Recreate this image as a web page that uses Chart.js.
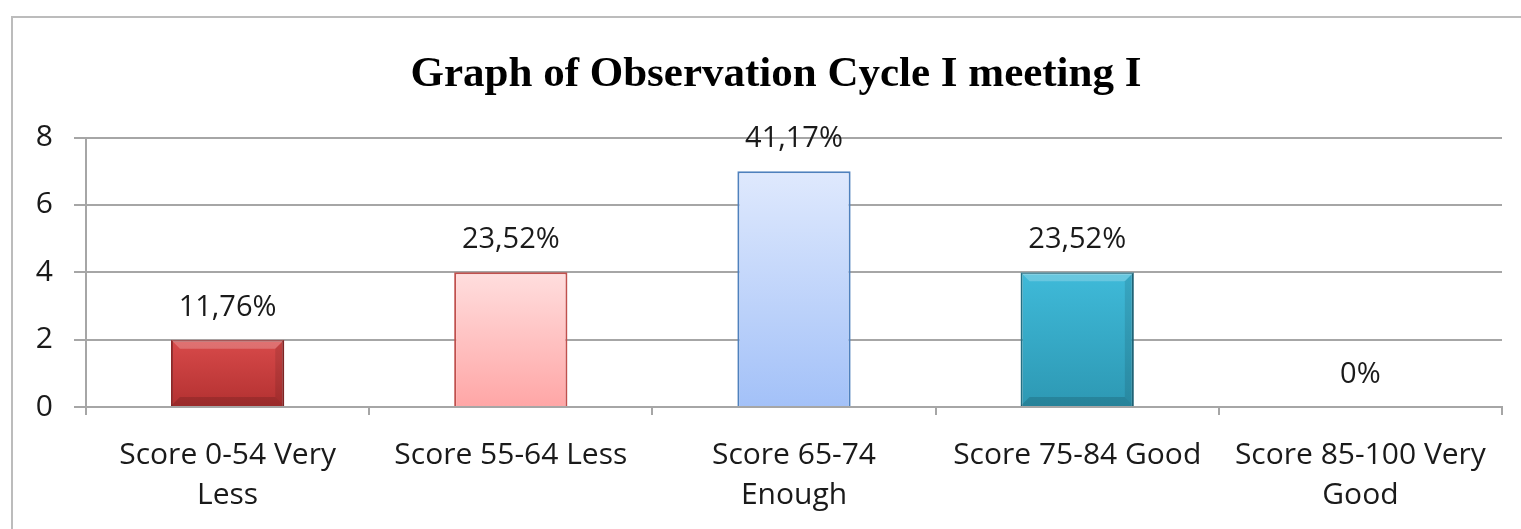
<!DOCTYPE html>
<html>
<head>
<meta charset="utf-8">
<title>Graph of Observation Cycle I meeting I</title>
<script src="https://cdn.jsdelivr.net/npm/chart.js@4/dist/chart.umd.min.js"></script>
<style>
    html, body { margin: 0; padding: 0; background: #fff; }
    #wrap { position: relative; width: 1521px; height: 529px; }
    #frame {
        position: absolute; left: 11px; top: 16px; right: -10px; bottom: -10px;
        border-left: 2px solid #bcbcbc; border-top: 2px solid #bcbcbc;
    }
    canvas { position: absolute; left: 0; top: 0; }
</style>
</head>
<body>
<div id="wrap">
    <div id="frame"></div>
    <canvas id="chart" width="1521" height="529"></canvas>
</div>
<script>
// === Data ===
const categories = [
    ['Score 0-54 Very', 'Less'],
    ['Score 55-64 Less'],
    ['Score 65-74', 'Enough'],
    ['Score 75-84 Good'],
    ['Score 85-100 Very', 'Good']
];
const counts = [2, 4, 7, 4, 0];
const percentLabels = ['11,76%', '23,52%', '41,17%', '23,52%', '0%'];
const yTicks = [0, 2, 4, 6, 8];

// === Bar styles (top colour, bottom colour, border) ===
const barStyles = [
    { top: '#d84a4a', bottom: '#b33131', border: '#8e2828' },
    { top: '#ffdede', bottom: '#ffa6a6', border: '#c0504d' },
    { top: '#dfe9fd', bottom: '#a3c1f8', border: '#4f81bd' },
    { top: '#3fbad9', bottom: '#2d98b3', border: '#236f84' },
    { top: '#ffffff', bottom: '#ffffff', border: '#ffffff' }
];

const LABEL_FONT = '"Open Sans", "Liberation Sans", Arial, sans-serif';

function barGradient(ctx) {
    const chart = ctx.chart;
    const style = barStyles[ctx.dataIndex];
    const y = chart.scales.y;
    if (!y || ctx.parsed == null) return style.bottom;
    const top = y.getPixelForValue(ctx.parsed.y);
    const bottom = y.getPixelForValue(0);
    if (!isFinite(top) || top === bottom) return style.bottom;
    const g = chart.ctx.createLinearGradient(0, top, 0, bottom);
    g.addColorStop(0, style.top);
    g.addColorStop(1, style.bottom);
    return g;
}

// title in the original sits a bit right of the canvas centre
const titleShift = {
    id: 'titleShift',
    afterLayout(chart) {
        if (chart.titleBlock) chart.titleBlock.left += 50;
    }
};

// draws the percent text above each bar
const percentPlugin = {
    id: 'percentLabels',
    afterDatasetsDraw(chart) {
        const c = chart.ctx;
        const meta = chart.getDatasetMeta(0);
        c.save();
        c.font = '29px ' + LABEL_FONT;
        c.fillStyle = '#1a1a1a';
        c.textAlign = 'center';
        c.textBaseline = 'alphabetic';
        meta.data.forEach((bar, i) => {
            c.fillText(percentLabels[i], bar.x, bar.y - 24);
        });
        c.restore();
    }
};

// bevel highlight on the solid bars
const bevelPlugin = {
    id: 'bevel',
    afterDatasetsDraw(chart) {
        const c = chart.ctx;
        const meta = chart.getDatasetMeta(0);
        [0, 3].forEach(i => {
            const bar = meta.data[i];
            const w = bar.width, left = bar.x - w / 2, right = bar.x + w / 2;
            const top = bar.y, bottom = bar.base;
            const b = 9;
            c.save();
            c.fillStyle = 'rgba(255,255,255,0.22)';
            c.beginPath();
            c.moveTo(left, top); c.lineTo(right, top);
            c.lineTo(right - b, top + b); c.lineTo(left + b, top + b);
            c.closePath(); c.fill();
            c.fillStyle = 'rgba(0,0,0,0.14)';
            c.beginPath();
            c.moveTo(left, bottom); c.lineTo(right, bottom);
            c.lineTo(right - b, bottom - b); c.lineTo(left + b, bottom - b);
            c.closePath(); c.fill();
            c.fillStyle = 'rgba(0,0,0,0.1)';
            c.beginPath();
            c.moveTo(right, top); c.lineTo(right, bottom);
            c.lineTo(right - b, bottom - b); c.lineTo(right - b, top + b);
            c.closePath(); c.fill();
            c.restore();
        });
    }
};

new Chart(document.getElementById('chart'), {
    type: 'bar',
    data: {
        labels: categories,
        datasets: [{
            data: counts,
            backgroundColor: barGradient,
            borderColor: barStyles.map(s => s.border),
            borderWidth: 2,
            categoryPercentage: 1,
            barPercentage: 0.4
        }]
    },
    options: {
        responsive: false,
        animation: false,
        layout: { padding: { left: 0, right: 19, top: 0, bottom: 0 } },
        plugins: {
            legend: { display: false },
            tooltip: { enabled: false },
            title: {
                display: true,
                text: 'Graph of Observation Cycle I meeting I',
                color: '#000',
                font: { family: '"Liberation Serif", "Times New Roman", serif', size: 43, weight: 'bold', lineHeight: 1.2 },
                padding: { top: 49, bottom: 37 }
            }
        },
        scales: {
            x: {
                grid: { drawOnChartArea: false, drawTicks: true, tickLength: 8, offset: true, color: '#a6a6a6', lineWidth: 2 },
                border: { display: true, color: '#a6a6a6', width: 2 },
                ticks: {
                    color: '#1a1a1a',
                    font: { family: LABEL_FONT, size: 30, lineHeight: 1.34 },
                    padding: 20,
                    maxRotation: 0,
                    autoSkip: false
                },
                afterFit(scale) { scale.height = 122; }
            },
            y: {
                min: 0,
                max: 8,
                afterBuildTicks(scale) { scale.ticks = yTicks.map(v => ({ value: v })); },
                grid: { color: '#a6a6a6', lineWidth: 2, tickLength: 12 },
                border: { display: true, color: '#a6a6a6', width: 2 },
                ticks: {
                    color: '#1a1a1a',
                    font: { family: LABEL_FONT, size: 30 },
                    padding: 21
                },
                afterFit(scale) { scale.width = 86; }
            }
        }
    },
    plugins: [titleShift, percentPlugin, bevelPlugin]
});
</script>
</body>
</html>
